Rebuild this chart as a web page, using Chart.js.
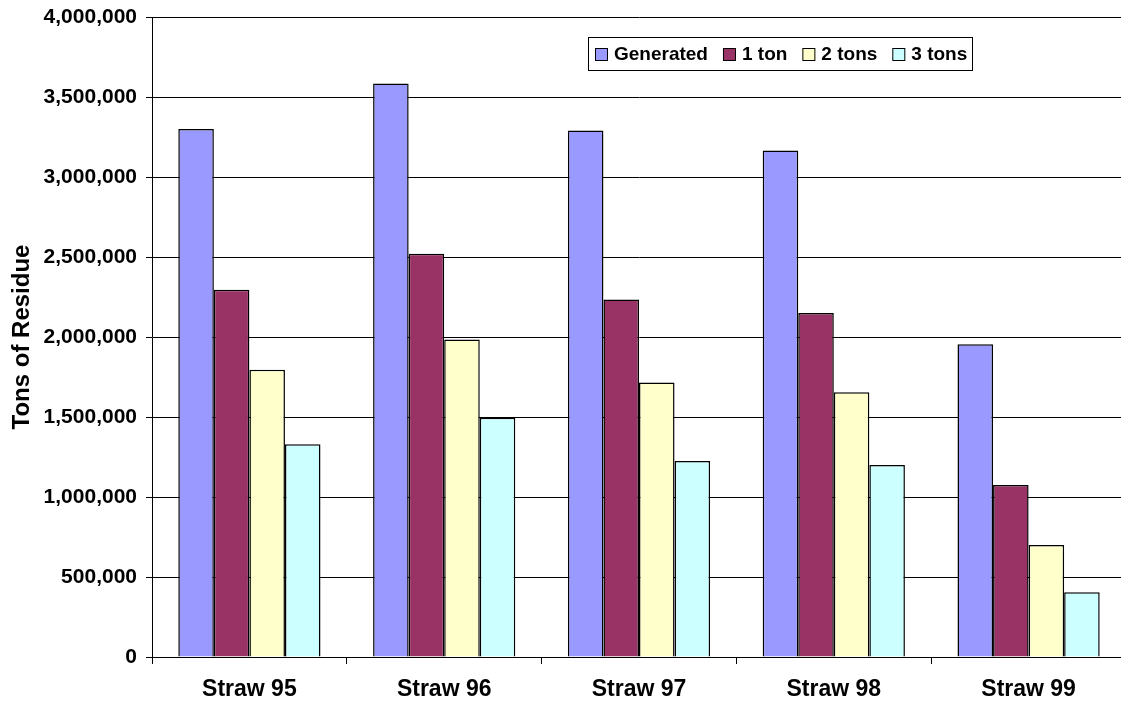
<!DOCTYPE html>
<html lang="en">
<head>
<meta charset="UTF-8">
<title>Tons of Residue</title>
<script src="https://cdn.jsdelivr.net/npm/chart.js"></script>
<style>
    body { margin: 0; background: #fff; overflow: hidden; }
    #wrap { width: 1126px; height: 706px; }
</style>
</head>
<body>
<div id="wrap"><canvas id="chart"></canvas></div>
<script>
    const categories = ['Straw 95', 'Straw 96', 'Straw 97', 'Straw 98', 'Straw 99'];
    const generated = [3300000, 3585000, 3290000, 3165000, 1955000];
    const oneTon = [2295000, 2520000, 2235000, 2150000, 1075000];
    const twoTons = [1795000, 1985000, 1715000, 1655000, 700000];
    const threeTons = [1330000, 1495000, 1225000, 1200000, 405000];
    const yTicks = [0, 500000, 1000000, 1500000, 2000000, 2500000, 3000000, 3500000, 4000000];

    const FONT = '"Liberation Sans", Arial, sans-serif';

    // legend box drawn inside the plot area
    const boxLegend = {
        id: 'boxLegend',
        afterDraw(chart) {
            const ctx = chart.ctx;
            ctx.save();
            ctx.font = 'bold 19px ' + FONT;
            ctx.textBaseline = 'middle';
            const x0 = 588, y0 = 37, h = 33, w = 384;
            const sw = 13, gap = 6, itemGap = 15;
            ctx.fillStyle = '#fff';
            ctx.fillRect(x0, y0, w, h);
            ctx.strokeStyle = '#000';
            ctx.lineWidth = 1;
            ctx.strokeRect(x0 + 0.5, y0 + 0.5, w, h);
            let x = x0 + 7;
            const cy = y0 + h / 2 + 1;
            chart.data.datasets.forEach(ds => {
                ctx.fillStyle = ds.backgroundColor;
                ctx.fillRect(x, cy - 6.5, sw, sw);
                ctx.strokeRect(x + 0.5, cy - 6.5 + 0.5, sw - 1, sw - 1);
                x += sw + gap;
                ctx.fillStyle = '#000';
                ctx.fillText(ds.label, x, cy);
                x += ctx.measureText(ds.label).width + itemGap;
            });
            ctx.restore();
        }
    };

    const mk = (label, data, color) => ({
        label: label,
        data: data,
        backgroundColor: color,
        borderColor: '#000',
        borderWidth: 1.5,
        barPercentage: 1,
        categoryPercentage: 0.73
    });

    new Chart(document.getElementById('chart'), {
        type: 'bar',
        data: {
            labels: categories,
            datasets: [
                mk('Generated', generated, '#9999FF'),
                mk('1 ton', oneTon, '#993366'),
                mk('2 tons', twoTons, '#FFFFCC'),
                mk('3 tons', threeTons, '#CCFFFF')
            ]
        },
        options: {
            responsive: true,
            maintainAspectRatio: false,
            animation: false,
            layout: { padding: { top: 17, right: 0, left: 0, bottom: 0 } },
            plugins: {
                legend: { display: false },
                tooltip: { enabled: false }
            },
            scales: {
                x: {
                    grid: { drawOnChartArea: false, color: '#000', tickLength: 7, offset: true },
                    border: { color: '#000', width: 1 },
                    ticks: { color: '#000', font: { family: FONT, size: 23, weight: 'bold' }, padding: 12 },
                    afterFit(scale) { scale.height = 49; }
                },
                y: {
                    min: 0,
                    max: 4000000,
                    afterBuildTicks(scale) { scale.ticks = yTicks.map(v => ({ value: v })); },
                    grid: { color: '#000', tickLength: 6 },
                    border: { color: '#000', width: 1 },
                    ticks: {
                        color: '#000',
                        font: { family: FONT, size: 21, weight: 'bold' },
                        padding: 9,
                        callback: v => v.toLocaleString('en-US')
                    },
                    title: {
                        display: true,
                        text: 'Tons of Residue',
                        color: '#000',
                        font: { family: FONT, size: 24, weight: 'bold' },
                        padding: { top: 8, bottom: 0 }
                    },
                    afterFit(scale) {
                        scale.width = 152;
                        scale.paddingTop = 0;
                        scale.paddingBottom = 0;
                    }
                }
            }
        },
        plugins: [boxLegend]
    });
</script>
</body>
</html>
